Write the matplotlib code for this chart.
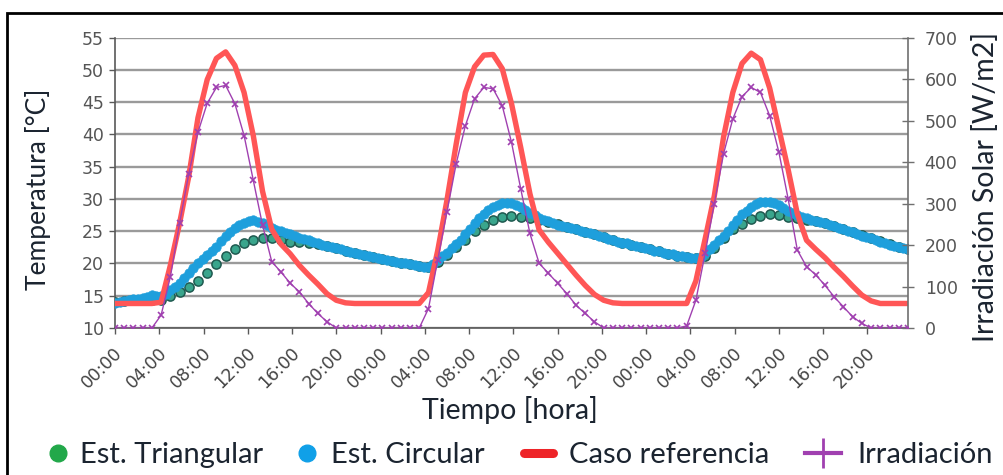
import numpy as np
import matplotlib
matplotlib.use("Agg")
import matplotlib.pyplot as plt
from matplotlib.lines import Line2D
from matplotlib.patches import Rectangle
import matplotlib.transforms as mtransforms

# ---------------- data ----------------
tick_labels = ["00:00", "04:00", "08:00", "12:00", "16:00", "20:00"] * 3
tick_hours = list(range(0, 72, 4))

coarse_step_h = 50 / 60   # sample interval of triangular / reference / irradiance
fine_step_h = 25 / 60     # sample interval of circular

est_triangular = [
    14.0, 14.2, 14.3, 14.3, 14.4, 14.4, 15.0, 15.6, 16.3, 17.3, 18.6, 19.9, 21.2, 22.3, 23.1, 23.6, 23.9, 23.9, 23.7, 23.4,
    23.3, 23.2, 23.0, 22.7, 22.4, 22.0, 21.7, 21.3, 21.0, 20.7, 20.4, 20.1, 19.9, 19.6, 19.5,
    20.3, 21.3, 22.5, 23.7, 25.1, 26.0, 26.8, 27.2, 27.4, 27.2, 27.0, 26.8, 26.5, 26.1,
    25.6, 25.3, 24.9, 24.5, 24.1, 23.6, 23.2, 22.9, 22.6, 22.2, 21.9, 21.5, 21.2, 21.0, 20.8,
    21.2, 22.4, 23.9, 25.3, 26.1, 26.9, 27.4, 27.6, 27.5, 27.2, 27.0,
    26.8, 26.6, 26.2, 25.8, 25.3, 24.9, 24.4, 23.9, 23.5, 23.0, 22.6, 22.3,
]

est_circular = [
    13.9, 14.05, 14.2, 14.35, 14.45, 14.5, 14.6, 14.85, 15.1, 14.9,
    14.9, 15.3, 15.9, 16.4, 17.0, 17.8, 18.6, 19.3, 20.0, 20.7,
    21.3, 21.9, 22.6, 23.5, 24.3, 24.9, 25.5, 26.0, 26.3, 26.6,
    26.7, 26.5, 26.2, 25.9, 25.5, 25.2, 25.0, 24.8, 24.5, 24.2,
    24.0, 23.8, 23.6, 23.4, 23.2, 22.9, 22.7, 22.5, 22.4, 22.2,
    22.0, 21.8, 21.7, 21.5, 21.3, 21.1, 21.0, 20.8, 20.7, 20.6,
    20.4, 20.3, 20.1, 20.0, 19.9, 19.7, 19.6, 19.4, 19.4, 19.9,
    20.5, 21.1, 21.7, 22.4, 23.0, 23.7, 24.5, 25.3, 26.3, 27.1,
    27.7, 28.3, 28.7, 29.1, 29.4, 29.4, 29.3, 29.1, 28.7, 28.3,
    27.9, 27.5, 27.1, 26.8, 26.6, 26.3, 26.0, 25.8, 25.6, 25.5,
    25.3, 25.1, 24.9, 24.7, 24.5, 24.3, 24.1, 23.8, 23.6, 23.4,
    23.2, 23.1, 22.9, 22.7, 22.6, 22.4, 22.2, 22.0, 21.9, 21.7,
    21.5, 21.4, 21.2, 21.1, 21.0, 20.9, 20.8, 21.0, 21.6, 22.2,
    22.9, 23.6, 24.3, 25.1, 25.9, 26.8, 27.6, 28.2, 28.8, 29.2,
    29.5, 29.6, 29.5, 29.3, 29.0, 28.6, 28.2, 27.8, 27.5, 27.2,
    27.0, 26.8, 26.6, 26.4, 26.2, 26.0, 25.8, 25.5, 25.3, 25.1,
    24.9, 24.6, 24.3, 24.1, 23.9, 23.6, 23.4, 23.1, 22.9, 22.7,
    22.6, 22.4, 22.3,
]

caso_referencia = [
    13.8, 13.8, 13.8, 13.8, 13.8, 14.0,
    19.7, 26.2, 33.5, 42.6, 48.5, 51.8, 52.8, 50.7, 46.5, 39.8, 31.2, 25.3, 23.0, 21.5, 19.7, 18.2, 16.8, 15.3, 14.3, 13.9,
    13.8, 13.8, 13.8, 13.8, 13.8, 13.8, 13.8, 13.8,
    15.5, 22.0, 29.8, 38.5, 46.5, 50.5, 52.3, 52.4, 50.2, 44.8, 38.0, 30.8, 25.2, 23.3, 21.6, 19.9, 18.2, 16.6, 15.2, 14.3, 13.9,
    13.8, 13.8, 13.8, 13.8, 13.8, 13.8, 13.8, 13.8,
    17.3, 23.8, 30.5, 39.6, 46.5, 51.0, 52.6, 51.6, 47.2, 40.9, 34.6, 27.7, 23.6, 22.2, 20.9, 19.4, 18.0, 16.5, 15.1, 14.2,
    13.8, 13.8, 13.8, 13.8,
]

irradiacion = [
    0, 0, 0, 0, 0,
    31, 123, 252, 372, 472, 542, 580, 585, 541, 464, 356, 248, 160, 135, 108, 87, 59, 35, 15, 0,
    0, 0, 0, 0, 0, 0, 0, 0, 0,
    47, 164, 280, 396, 488, 553, 580, 577, 536, 448, 336, 228, 156, 132, 108, 83, 55, 35, 15, 0,
    0, 0, 0, 0, 0, 0, 0, 0,
    5, 67, 180, 300, 420, 504, 558, 580, 568, 512, 424, 312, 188, 148, 128, 103, 75, 51, 27, 11,
    0, 0, 0, 0, 0,
]

series_names = ["Est. Triangular", "Est. Circular", "Caso referencia", "Irradiación"]

t_coarse = np.arange(len(est_triangular)) * coarse_step_h
t_fine = np.arange(len(est_circular)) * fine_step_h

# ---------------- figure ----------------
W, H = 1004, 475
fig = plt.figure(figsize=(W / 100, H / 100), dpi=100)
fig.patch.set_facecolor("white")

L, R, T, B = 115, 908, 37.7, 328
ax = fig.add_axes([L / W, 1 - B / H, (R - L) / W, (B - T) / H])
ax2 = ax.twinx()

label_font = ["Lato", "DejaVu Sans"]
tick_color = "#555555"
text_color = "#1b2430"

ax.plot(t_coarse, est_triangular, ls="none", marker="o", ms=6.6,
        mfc="#3aa58c", mec="#1f5a50", mew=1.1, zorder=3)
ax.plot(t_fine, est_circular, ls="none", marker="o", ms=6.8,
        mfc="#1e9fdc", mec="#1e9fdc", mew=0.5, zorder=4)
ax.plot(t_coarse, caso_referencia, color="#ff5656", lw=3.9,
        solid_joinstyle="round", solid_capstyle="round", zorder=5)
ax2.plot(t_coarse, irradiacion, color="#a040b0", lw=1.0, marker="x",
         ms=4, mew=1.2, zorder=6)

ax.set_xlim(0, 71.67)
ax.set_ylim(10, 55)
ax2.set_ylim(0, 700)
ax.set_yticks(range(10, 56, 5))
ax2.set_yticks(range(0, 701, 100))

ax.set_xticks(tick_hours)
ax.set_xticklabels(tick_labels)

ax.yaxis.grid(True, color="#9a9a9a", lw=1.7)
ax.set_axisbelow(True)

for a in (ax, ax2):
    a.spines["top"].set_visible(False)
ax.spines["right"].set_visible(False)
ax2.spines["left"].set_visible(False)
ax2.spines["bottom"].set_visible(False)
ax.spines["left"].set_color("#595959")
ax.spines["bottom"].set_color("#595959")
ax2.spines["right"].set_color("#707070")
ax.spines["left"].set_linewidth(1.2)
ax.spines["bottom"].set_linewidth(1.2)
ax2.spines["right"].set_linewidth(1.2)

ax.tick_params(axis="y", direction="out", length=4, width=1, color="#595959",
               labelsize=12.5, labelcolor=tick_color, pad=4)
ax.tick_params(axis="x", direction="out", length=4, width=1, color="#595959",
               labelsize=12.5, labelcolor="#444444", pad=12)
ax2.tick_params(axis="y", direction="inout", length=8, width=1, color="#707070",
                labelsize=12.5, labelcolor=tick_color, pad=8)

offset = mtransforms.ScaledTranslation(0.05, 0, fig.dpi_scale_trans)
for lab in ax.get_xticklabels():
    lab.set_rotation(45)
    lab.set_ha("right")
    lab.set_va("center")
    lab.set_rotation_mode("anchor")
    lab.set_transform(lab.get_transform() + offset)

fig.text(38 / W, 1 - 189 / H, "Temperatura [°C]", rotation=90, ha="center", va="center",
         fontsize=19, family=label_font, color=text_color)
fig.text(986 / W, 1 - 187 / H, "Irradiación Solar [W/m2]", rotation=90, ha="center", va="center",
         fontsize=20.5, family=label_font, color=text_color)
fig.text(510 / W, 1 - 410 / H, "Tiempo [hora]", ha="center", va="center",
         fontsize=20.5, family=label_font, color=text_color)

# legend: one entry per legend so each key sits where the reference has it
leg_fs = 21
leg_y = 1 - 455 / H
handles = [
    Line2D([], [], ls="none", marker="o", ms=12, mfc="#22a84a", mec="#22a84a"),
    Line2D([], [], ls="none", marker="o", ms=12, mfc="#10a0e8", mec="#10a0e8"),
    Line2D([], [], color="#ee2428", lw=6.5, solid_capstyle="round"),
    Line2D([], [], color="#a040b0", lw=3, marker="|", ms=22, mew=2),
]
# (box start px, handlelength em, handletextpad em)
leg_layout = [(49, 0.62, 0.45), (298, 0.62, 0.5), (524, 1.0, 0.55), (805, 1.25, 0.55)]
for h, name, (x0, hl, hp) in zip(handles, series_names, leg_layout):
    fig.legend([h], [name], loc="center left", bbox_to_anchor=(x0 / W, leg_y),
               frameon=False, prop={"family": label_font, "size": leg_fs},
               handlelength=hl, handletextpad=hp, borderpad=0, borderaxespad=0,
               labelcolor=text_color)

fig.patches.append(Rectangle((7 / W, -0.1), 1.2, 1.1 - 13 / H, transform=fig.transFigure,
                             fill=False, edgecolor="black", lw=2, clip_on=False))

fig.savefig("out.png", dpi=100)
